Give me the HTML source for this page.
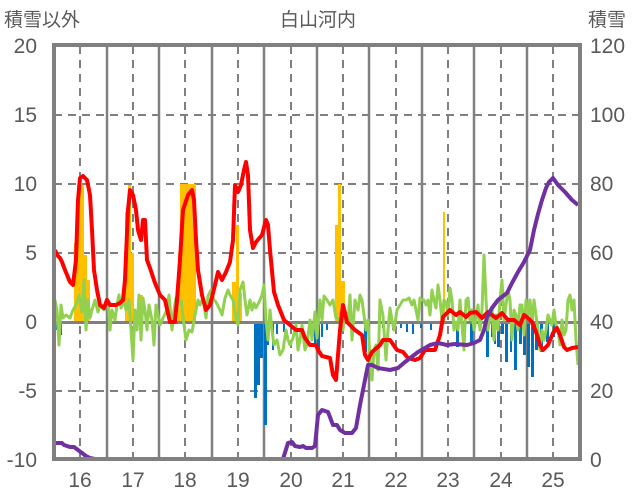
<!DOCTYPE html>
<html><head><meta charset="utf-8"><style>
html,body{margin:0;padding:0;background:#fff;}
svg{display:block;font-family:"Liberation Sans","Noto Sans CJK JP",sans-serif;}
</style></head><body>
<svg width="636" height="501" viewBox="0 0 636 501" xmlns="http://www.w3.org/2000/svg">
<g fill="#595959" font-size="21">
<text x="4" y="26" font-size="19">積雪以外</text>
<text x="318" y="26" font-size="19" text-anchor="middle">白山河内</text>
<text x="588" y="26" font-size="19">積雪</text>
<g text-anchor="end">
<text x="37" y="53">20</text><text x="37" y="122">15</text><text x="37" y="191">10</text>
<text x="37" y="260">5</text><text x="37" y="329">0</text><text x="37" y="398">-5</text><text x="37" y="467">-10</text>
</g>
<g>
<text x="590" y="53">120</text><text x="590" y="122">100</text><text x="590" y="191">80</text>
<text x="590" y="260">60</text><text x="590" y="329">40</text><text x="590" y="398">20</text><text x="590" y="467">0</text>
</g>
<g text-anchor="middle">
<text x="80" y="487">16</text><text x="133" y="487">17</text><text x="185" y="487">18</text>
<text x="238" y="487">19</text><text x="291" y="487">20</text><text x="343" y="487">21</text>
<text x="396" y="487">22</text><text x="448" y="487">23</text><text x="501" y="487">24</text><text x="553" y="487">25</text>
</g>
</g>
<g stroke="#808080" stroke-width="2" stroke-dasharray="8,6">
<line x1="54" y1="115" x2="580" y2="115"/><line x1="54" y1="184" x2="580" y2="184"/>
<line x1="54" y1="253" x2="580" y2="253"/><line x1="54" y1="391" x2="580" y2="391"/>
<line x1="80" y1="46" x2="80" y2="459"/><line x1="133" y1="46" x2="133" y2="459"/>
<line x1="185" y1="46" x2="185" y2="459"/><line x1="238" y1="46" x2="238" y2="459"/>
<line x1="291" y1="46" x2="291" y2="459"/><line x1="343" y1="46" x2="343" y2="459"/>
<line x1="396" y1="46" x2="396" y2="459"/><line x1="448" y1="46" x2="448" y2="459"/>
<line x1="501" y1="46" x2="501" y2="459"/><line x1="553" y1="46" x2="553" y2="459"/>
</g>
<g stroke="#808080" stroke-width="2.5">
<line x1="107" y1="46" x2="107" y2="459"/><line x1="159" y1="46" x2="159" y2="459"/>
<line x1="212" y1="46" x2="212" y2="459"/><line x1="264" y1="46" x2="264" y2="459"/>
<line x1="317" y1="46" x2="317" y2="459"/><line x1="369" y1="46" x2="369" y2="459"/>
<line x1="422" y1="46" x2="422" y2="459"/><line x1="474" y1="46" x2="474" y2="459"/>
<line x1="527" y1="46" x2="527" y2="459"/>
</g>
<g fill="#FFC000">
<rect x="74" y="243" width="3" height="80"/><rect x="77" y="185" width="7" height="138"/>
<rect x="83" y="255" width="4" height="68"/><rect x="87" y="280" width="3" height="43"/>
<rect x="125" y="212" width="3" height="111"/><rect x="128" y="185" width="3" height="138"/>
<rect x="131" y="253" width="3" height="70"/><rect x="140" y="295" width="3" height="28"/>
<rect x="178" y="253" width="3" height="70"/><rect x="180" y="184" width="16" height="139"/>
<rect x="232" y="282" width="4" height="41"/><rect x="236" y="225" width="3" height="98"/>
<rect x="239" y="293" width="3" height="30"/>
<rect x="335" y="225" width="3" height="98"/><rect x="338" y="184" width="3" height="139"/>
<rect x="341" y="281" width="4" height="42"/><rect x="443" y="212" width="2" height="111"/>
</g>
<g fill="#0070C0">
<rect x="55" y="322" width="3" height="8"/><rect x="60" y="322" width="2" height="13"/>
<rect x="254" y="322" width="3" height="76"/><rect x="257" y="322" width="3" height="63"/>
<rect x="260" y="322" width="3" height="36"/><rect x="264" y="322" width="3" height="103"/>
<rect x="267" y="322" width="2" height="23"/><rect x="272" y="322" width="2" height="28"/>
<rect x="276" y="322" width="2" height="12"/><rect x="283" y="322" width="2" height="10"/>
<rect x="314" y="322" width="2" height="25"/><rect x="317" y="322" width="3" height="28"/>
<rect x="321" y="322" width="2" height="15"/><rect x="326" y="322" width="2" height="8"/>
<rect x="364" y="322" width="3" height="30"/><rect x="368" y="322" width="2" height="20"/>
<rect x="382" y="322" width="2" height="6"/><rect x="392" y="322" width="2" height="8"/>
<rect x="400" y="322" width="2" height="6"/><rect x="406" y="322" width="2" height="10"/>
<rect x="412" y="322" width="2" height="12"/><rect x="420" y="322" width="2" height="6"/>
<rect x="430" y="322" width="2" height="8"/><rect x="456" y="322" width="3" height="25"/>
<rect x="462" y="322" width="2" height="10"/><rect x="470" y="322" width="3" height="20"/>
<rect x="486" y="322" width="3" height="35"/><rect x="491" y="322" width="2" height="15"/>
<rect x="494" y="322" width="2" height="22"/>
<rect x="497" y="322" width="3" height="25"/><rect x="501" y="322" width="3" height="12"/>
<rect x="505" y="322" width="3" height="40"/><rect x="510" y="322" width="2" height="30"/>
<rect x="514" y="322" width="3" height="48"/><rect x="519" y="322" width="3" height="22"/>
<rect x="523" y="322" width="3" height="33"/><rect x="527" y="322" width="3" height="45"/>
<rect x="531" y="322" width="3" height="55"/><rect x="535" y="322" width="3" height="28"/>
<rect x="540" y="322" width="3" height="30"/><rect x="546" y="322" width="3" height="20"/>
<rect x="553" y="322" width="2" height="15"/><rect x="562" y="322" width="2" height="8"/>
</g>
<line x1="54" y1="322.5" x2="580" y2="322.5" stroke="#808080" stroke-width="3"/>
<polyline fill="none" stroke="#92D050" stroke-width="3" stroke-linejoin="round" points="55,300 57,310 59,345 61,305 63,318 66,315 70,318 73,310 76,305 79,295 82,312 84,280 86,330 88,300 90,318 92,310 95,300 98,312 100,305 104,310 108,300 110,330 112,310 115,320 117,305 119,295 121,308 124,300 126,310 129,300 131,330 133,360 135,310 137,330 139,295 141,340 143,298 145,310 147,330 149,305 152,320 154,345 156,305 158,315 160,325 163,318 166,312 169,295 172,330 174,310 176,298 178,305 181,300 184,325 186,340 189,330 192,332 195,315 198,300 200,305 203,298 206,318 208,296 211,290 214,300 216,302 220,310 222,315 225,298 228,290 230,295 233,300 236,318 238,325 240,290 243,282 245,300 247,315 250,300 252,310 254,303 256,308 260,300 262,295 264,285 266,320 268,340 270,310 272,330 274,345 277,340 280,355 283,350 286,330 288,340 290,345 293,338 296,325 298,350 300,340 302,325 305,350 307,345 310,320 312,340 315,312 317,338 320,300 322,320 324,296 327,300 330,305 333,300 336,318 340,320 343,330 345,310 348,322 350,295 352,340 355,300 358,310 360,295 362,300 364,315 366,330 368,320 370,360 372,380 374,350 376,345 378,370 380,300 383,316 386,360 388,330 390,308 392,320 394,330 397,310 400,305 403,300 406,300 409,298 412,305 414,300 416,310 418,320 420,298 422,300 424,300 426,305 428,300 430,315 432,290 434,300 436,308 438,285 440,300 442,320 444,300 446,302 448,315 450,288 452,300 454,330 456,322 458,330 460,300 462,325 464,350 466,300 468,298 470,320 472,310 474,330 476,318 478,305 480,330 482,310 484,255 486,300 488,330 490,315 492,308 494,340 496,315 498,330 500,300 502,280 504,320 506,305 508,290 510,300 512,340 514,310 516,315 518,330 520,305 522,305 524,335 526,300 528,315 530,300 532,325 534,300 536,315 538,330 540,350 542,330 544,340 546,330 548,315 550,320 552,325 554,310 556,325 558,330 560,345 562,320 564,335 566,330 568,300 570,295 572,310 574,300 576,340 578,365"/>
<polyline fill="none" stroke="#FF0000" stroke-width="4" stroke-linejoin="round" points="55,250 57,255 60,258 62,262 65,270 70,282 73,285 76,260 78,200 80,178 83,176 87,180 90,195 92,230 94,270 97,290 100,305 104,308 107,300 110,305 114,305 116,305 120,303 123,300 125,280 128,210 130,190 133,195 136,210 138,230 141,240 143,220 145,220 147,260 150,268 155,283 160,295 165,300 170,322 175,322 177,300 180,260 183,210 188,195 192,190 194,200 196,240 198,270 202,295 206,310 210,305 215,285 218,272 222,280 226,272 230,262 233,240 235,185 238,192 241,185 244,170 246,162 248,175 250,230 253,248 256,242 262,235 266,220 268,225 270,250 274,292 278,305 284,320 290,325 296,330 302,330 305,338 310,345 316,345 318,350 322,356 330,358 333,375 336,380 340,330 343,305 347,322 355,330 362,335 365,355 368,360 372,352 380,345 383,340 390,340 397,350 403,352 408,358 415,360 420,358 425,350 435,350 440,335 443,317 450,310 456,315 460,312 466,317 470,313 476,312 482,318 488,312 496,318 502,313 508,320 514,320 520,325 524,315 528,318 532,322 536,332 540,345 543,350 548,345 553,333 557,328 560,335 564,347 567,350 572,348 578,347"/>
<polyline fill="none" stroke="#7030A0" stroke-width="4" stroke-linejoin="round" points="54,443 62,443 64,445 70,447 74,447 78,450 82,453 86,456 90,458 95,459 283,459 288,443 292,442 295,446 300,447 303,446 306,448 312,448 315,446 318,415 322,410 328,412 333,425 337,425 340,430 345,433 352,433 356,428 360,405 364,385 368,365 372,365 378,368 390,370 398,368 405,362 418,352 425,348 430,345 438,343 447,345 455,344 467,345 474,343 480,340 484,330 487,317 492,308 498,300 507,293 512,283 518,272 524,262 530,250 534,230 538,214 542,200 546,188 549,182 553,178 558,185 565,192 572,200 578,205"/>
<rect x="54" y="45" width="526" height="414" fill="none" stroke="#808080" stroke-width="4"/>
</svg>
</body></html>
